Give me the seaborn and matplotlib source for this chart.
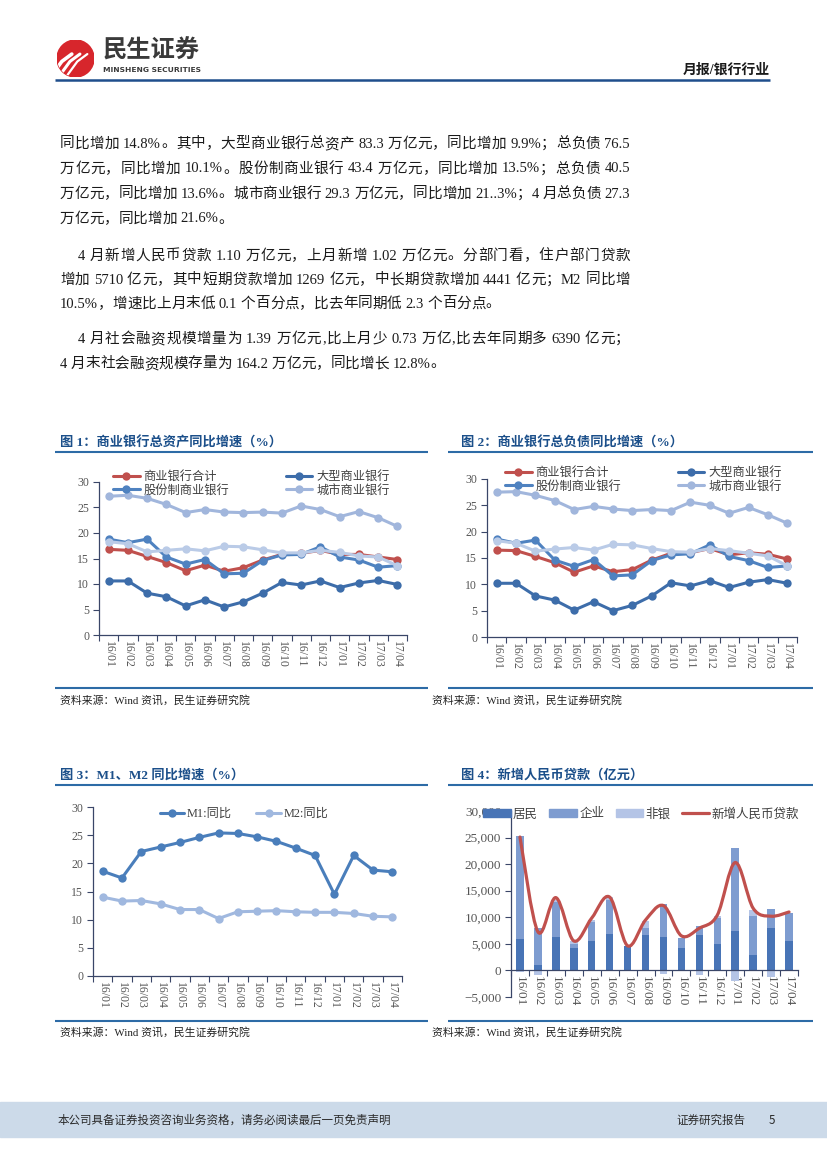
import re
import numpy as np
import matplotlib
matplotlib.use('Agg')
import matplotlib.pyplot as plt
from matplotlib.lines import Line2D
from matplotlib.patches import Circle, Rectangle, PathPatch, Patch
from matplotlib.path import Path
from matplotlib.ticker import StrMethodFormatter
import seaborn as sns

sns.set_theme(style='ticks')
SERIF_CJK = ['Liberation Serif', 'Noto Sans CJK SC']
SANS_CJK = ['Noto Sans CJK SC', 'DejaVu Sans']
plt.rcParams['font.family'] = SERIF_CJK

# ---------------- data ----------------
months = ['16/01', '16/02', '16/03', '16/04', '16/05', '16/06', '16/07', '16/08',
          '16/09', '16/10', '16/11', '16/12', '17/01', '17/02', '17/03', '17/04']

# fig 1: total assets yoy (%)
asset_total = [16.8, 16.6, 15.4, 14.2, 12.6, 13.7, 12.5, 13.2, 14.7, 15.8, 16.0, 16.6, 15.8, 15.8, 15.3, 14.8]
asset_large = [10.6, 10.6, 8.2, 7.5, 5.7, 6.9, 5.5, 6.5, 8.2, 10.3, 9.8, 10.6, 9.3, 10.2, 10.7, 9.9]
asset_joint = [18.8, 18.1, 18.8, 15.3, 13.9, 14.8, 12.0, 12.1, 14.6, 15.7, 15.8, 17.3, 15.3, 14.7, 13.3, 13.6]
asset_city = [27.2, 27.4, 26.8, 25.6, 24.0, 24.6, 24.1, 24.0, 24.1, 23.9, 25.3, 24.6, 23.2, 24.2, 23.0, 21.3]
asset_rural = [18.3, 17.9, 16.3, 16.6, 16.9, 16.5, 17.4, 17.3, 16.7, 16.1, 16.1, 16.6, 16.2, 15.5, 15.3, 13.6]

# fig 2: total liabilities yoy (%)
liab_total = [16.5, 16.4, 15.3, 14.1, 12.3, 13.5, 12.4, 12.8, 14.6, 15.9, 16.0, 16.8, 15.6, 16.0, 15.7, 14.8]
liab_large = [10.2, 10.2, 7.8, 7.0, 5.1, 6.7, 5.0, 6.0, 7.8, 10.3, 9.7, 10.7, 9.4, 10.4, 10.9, 10.2]
liab_joint = [18.6, 17.8, 18.4, 14.6, 13.4, 14.7, 11.6, 11.8, 14.5, 15.6, 15.8, 17.5, 15.3, 14.5, 13.2, 13.5]
liab_city = [27.5, 27.6, 26.9, 25.9, 24.2, 24.8, 24.3, 24.0, 24.2, 24.0, 25.6, 25.0, 23.5, 24.6, 23.2, 21.6]
liab_rural = [18.3, 17.8, 16.3, 16.7, 17.0, 16.5, 17.6, 17.5, 16.8, 16.2, 16.1, 16.8, 16.4, 15.9, 15.4, 13.5]

# fig 3: M1 / M2 yoy (%)
m1_yoy = [18.6, 17.4, 22.1, 22.9, 23.7, 24.6, 25.4, 25.3, 24.7, 23.9, 22.7, 21.4, 14.5, 21.4, 18.8, 18.5]
m2_yoy = [14.0, 13.3, 13.4, 12.8, 11.8, 11.8, 10.2, 11.4, 11.5, 11.6, 11.4, 11.3, 11.3, 11.1, 10.6, 10.5]

# fig 4: new RMB loans (100m yuan)
household = [5940, 1040, 6380, 4190, 5630, 6940, 4570, 6750, 6250, 4250, 6750, 4880, 7380, 2940, 7940, 5630]
corporate = [19370, 6970, 6560, 700, 3560, 6370, -60, 1190, 6250, 1810, 1620, 4930, 15620, 7370, 3620, 5180]
nonbank = [-300, -770, 300, 600, 370, 440, 120, 1440, -630, 0, -900, 500, -2000, 1130, -1250, 0]
new_loans = [25100, 7266, 13700, 5556, 9855, 13800, 4636, 9487, 12200, 6513, 7946, 10400, 20300, 11700, 10200, 11000]

# ---------------- colours ----------------
C_RED = '#C0504D'
C_LARGE = '#3D6DAA'
C_JOINT = '#4F82C0'
C_CITY = '#A1B6DC'
C_RURAL = '#BACBE7'
C_M1 = '#4A7EBB'
C_M2 = '#A0B8DF'
C_HH = '#4874B6'
C_CORP = '#7E9CD0'
C_NB = '#B4C4E6'
AXIS_C = '#3A4668'
TICK_C = '#555555'
TITLE_C = '#1B4F8A'
RULE_C = '#2D6BA6'

W, H = 827, 1169
fig = plt.figure(figsize=(W / 100, H / 100), dpi=100)
fig.patch.set_facecolor('white')
renderer = fig.canvas.get_renderer()


def fx(x):
    return x / W


def fy(y):
    return 1 - y / H


def px_axes(l, t, r, b):
    return fig.add_axes([fx(l), fy(b), (r - l) / W, (b - t) / H])


def hline(x0, x1, y, color, lw):
    fig.add_artist(Line2D([fx(x0), fx(x1)], [fy(y), fy(y)], color=color, lw=lw,
                          solid_capstyle='butt'))


# ---------------- header ----------------
logo = px_axes(57, 40, 94, 77)
logo.set_xlim(0, 1)
logo.set_ylim(0, 1)
logo.set_aspect('equal')
logo.axis('off')
circ = Circle((0.5, 0.5), 0.5, color='#D7262C')
logo.add_patch(circ)
for dx, lw in ((-0.22, 2.6), (0.0, 2.2), (0.2, 1.6)):
    ln, = logo.plot([0.08 + dx, 0.35 + dx, 0.62 + dx], [0.05, 0.42, 0.62], color='white',
                    lw=lw, solid_capstyle='round')
    ln.set_clip_path(circ)
fig.text(fx(103), fy(51), '民生证券', fontsize=17.5, fontweight='bold', family=SANS_CJK,
         color='#3A3A3A', va='center', ha='left')
fig.text(fx(103), fy(70), 'MINSHENG SECURITIES', fontsize=5.4, fontweight='bold',
         family='DejaVu Sans', color='#3A3A3A', va='center', ha='left')
fig.text(fx(770), fy(70), '月报/银行行业', fontsize=10, fontweight='bold', family=SERIF_CJK,
         color='#1A1A1A', va='center', ha='right')
hline(55, 770, 80, '#1F4E8C', 1.8)

# ---------------- body text ----------------
body_lines = [
    ('同比增加 14.8%。其中，大型商业银行总资产 83.3 万亿元，同比增加 9.9%；总负债 76.5', 144, 60, True),
    ('万亿元，同比增加 10.1%。股份制商业银行 43.4 万亿元，同比增加 13.5%；总负债 40.5', 169, 60, True),
    ('万亿元，同比增加 13.6%。城市商业银行 29.3 万亿元，同比增加 21..3%；4 月总负债 27.3', 194, 60, True),
    ('万亿元，同比增加 21.6%。', 219, 60, False),
    ('4 月新增人民币贷款 1.10 万亿元，上月新增 1.02 万亿元。分部门看，住户部门贷款', 256, 78, True),
    ('增加 5710 亿元，其中短期贷款增加 1269 亿元，中长期贷款增加 4441 亿元；M2 同比增', 280, 60, True),
    ('10.5%，增速比上月末低 0.1 个百分点，比去年同期低 2.3 个百分点。', 304, 60, False),
    ('4 月社会融资规模增量为 1.39 万亿元,比上月少 0.73 万亿,比去年同期多 6390 亿元；', 339, 78, True),
    ('4 月末社会融资规模存量为 164.2 万亿元，同比增长 12.8%。', 364, 60, False),
]
BODY_SIZE = 10.5
RIGHT_EDGE = 630
space_w = BODY_SIZE * 100 / 72 * 0.25
for text, y, x0, justify in body_lines:
    items = []
    for tok in re.findall(r' +|[0-9A-Za-z.%,]+|\S', text):
        if tok.startswith(' '):
            items.append(None)
        else:
            items.append(fig.text(0, fy(y), tok, fontsize=BODY_SIZE, family=SERIF_CJK,
                                  color='#1A1A1A', va='center', ha='left'))
    widths = [it.get_window_extent(renderer).width if it is not None else space_w
              for it in items]
    n_tok = sum(1 for it in items if it is not None)
    extra = 0.0
    if justify and n_tok > 1:
        extra = (RIGHT_EDGE - x0 - sum(widths)) / (n_tok - 1)
    x = x0
    for it, w in zip(items, widths):
        if it is None:
            x += w
        else:
            it.set_x(fx(x))
            x += w + extra


# ---------------- helpers for charts ----------------
def chart_frame(title, x_title, y_title, x0, x1, y_rule, y_src_rule, y_src, x_src):
    fig.text(fx(x_title), fy(y_title), title, fontsize=9.5, fontweight='bold',
             family=SERIF_CJK, color=TITLE_C, va='center', ha='left')
    hline(x0, x1, y_rule, RULE_C, 1.5)
    hline(x0, x1, y_src_rule, RULE_C, 1.5)
    fig.text(fx(x_src), fy(y_src), '资料来源：Wind 资讯，民生证券研究院', fontsize=7.8,
             family=SERIF_CJK, color='#222222', va='center', ha='left')


def style_axes(ax, ylim, yticks, size):
    ax.set_facecolor('none')
    for s in ['top', 'right']:
        ax.spines[s].set_visible(False)
    for s in ['left', 'bottom']:
        ax.spines[s].set_color(AXIS_C)
        ax.spines[s].set_linewidth(0.9)
    n = len(months)
    ax.set_xlim(-0.5, n - 0.5)
    ax.set_ylim(*ylim)
    ax.set_yticks(yticks)
    ax.set_xticks(range(n))
    ax.set_xticklabels(months)
    ax.set_xticks(np.arange(-0.5, n), minor=True)
    ax.tick_params(axis='x', which='major', length=0, pad=4, labelsize=size,
                   labelcolor=TICK_C, labelrotation=-90)
    ax.tick_params(axis='x', which='minor', length=4, width=0.8, color=AXIS_C, direction='out')
    ax.tick_params(axis='y', length=4, width=0.8, color=AXIS_C, direction='out',
                   labelsize=size, labelcolor=TICK_C, pad=3)
    ax.set_xlabel('')
    ax.set_ylabel('')


def line_handle(c):
    return Line2D([], [], color=c, lw=2.2, marker='o', markersize=6, markeredgewidth=0)


xs = np.arange(len(months))
LEG_PROP = {'family': SERIF_CJK, 'size': 8.8}


def bank_chart(ax, total, large, joint, city, rural, leg_x, leg_top):
    series = [(total, C_RED), (large, C_LARGE), (joint, C_JOINT), (city, C_CITY), (rural, C_RURAL)]
    for vals, c in series:
        sns.lineplot(x=xs, y=vals, ax=ax, color=c, lw=2.2, marker='o', markersize=6,
                     markeredgewidth=0, legend=False)
    style_axes(ax, (0, 30), range(0, 31, 5), 8.5)
    handles = [line_handle(C_RED), line_handle(C_JOINT), line_handle(C_LARGE), line_handle(C_CITY)]
    labels = ['商业银行合计', '股份制商业银行', '大型商业银行', '城市商业银行']
    leg = ax.legend(handles, labels, ncol=2, loc='upper left', bbox_to_anchor=(fx(leg_x), fy(leg_top)),
                    bbox_transform=fig.transFigure, frameon=False, prop=LEG_PROP, handlelength=2.2,
                    handletextpad=0.3, columnspacing=4.6, labelspacing=0.12, borderpad=0,
                    borderaxespad=0)
    for t in leg.get_texts():
        t.set_color('#404040')


# ---------------- fig 1 ----------------
chart_frame('图 1：商业银行总资产同比增速（%）', 60, 443, 55, 428, 452, 688, 700, 60)
ax1 = px_axes(99, 482, 407, 635)
bank_chart(ax1, asset_total, asset_large, asset_joint, asset_city, asset_rural, 113, 471)

# ---------------- fig 2 ----------------
chart_frame('图 2：商业银行总负债同比增速（%）', 461, 443, 448, 813, 452, 688, 700, 432)
ax2 = px_axes(487, 479, 797, 637)
bank_chart(ax2, liab_total, liab_large, liab_joint, liab_city, liab_rural, 505, 467)

# ---------------- fig 3 ----------------
chart_frame('图 3：M1、M2 同比增速（%）', 60, 775, 55, 428, 785, 1021, 1032, 60)
ax3 = px_axes(93, 807, 402, 976)
sns.lineplot(x=xs, y=m1_yoy, ax=ax3, color=C_M1, lw=2.2, marker='o', markersize=6,
             markeredgewidth=0, legend=False)
sns.lineplot(x=xs, y=m2_yoy, ax=ax3, color=C_M2, lw=2.2, marker='o', markersize=6,
             markeredgewidth=0, legend=False)
style_axes(ax3, (0, 30), range(0, 31, 5), 8.5)
leg3 = ax3.legend([line_handle(C_M1), line_handle(C_M2)], ['M1:同比', 'M2:同比'], ncol=2,
                  loc='upper left', bbox_to_anchor=(fx(160), fy(808)), bbox_transform=fig.transFigure,
                  frameon=False, prop=LEG_PROP, handlelength=2.0, handletextpad=0.2,
                  columnspacing=2.0, borderpad=0, borderaxespad=0)
for t in leg3.get_texts():
    t.set_color('#404040')

# ---------------- fig 4 ----------------
chart_frame('图 4：新增人民币贷款（亿元）', 461, 775, 448, 813, 785, 1021, 1032, 432)
ax4 = px_axes(511, 811, 798, 997)
ax4.spines['bottom'].set_position(('data', 0))
pos = np.zeros(len(months))
neg = np.zeros(len(months))
for vals, c in [(household, C_HH), (corporate, C_CORP), (nonbank, C_NB)]:
    v = np.array(vals, dtype=float)
    bottom = np.where(v >= 0, pos, neg)
    ax4.bar(xs, v, width=0.42, bottom=bottom, color=c, linewidth=0, zorder=2)
    pos = pos + np.where(v >= 0, v, 0)
    neg = neg + np.where(v < 0, v, 0)


def smooth_path(xv, yv):
    # Excel-style smoothed line: cubic Bezier segments through every data point
    pts = np.column_stack([xv, yv]).astype(float)
    verts = [pts[0]]
    codes = [Path.MOVETO]
    n = len(pts)
    for i in range(n - 1):
        p0, p1 = pts[max(i - 1, 0)], pts[i]
        p2, p3 = pts[i + 1], pts[min(i + 2, n - 1)]
        verts += [p1 + (p2 - p0) / 6, p2 - (p3 - p1) / 6, p2]
        codes += [Path.CURVE4] * 3
    return Path(verts, codes)


ax4.add_patch(PathPatch(smooth_path(xs, new_loans), fill=False, edgecolor=C_RED, lw=2.3,
                        zorder=3, capstyle='round', joinstyle='round'))
style_axes(ax4, (-5000, 30000), range(-5000, 30001, 5000), 9.5)
ax4.yaxis.set_major_formatter(StrMethodFormatter('{x:,.0f}'))
leg4 = ax4.legend([Patch(color=C_HH), Patch(color=C_CORP), Patch(color=C_NB),
                   Line2D([], [], color=C_RED, lw=2.3)],
                  ['居民', '企业', '非银', '新增人民币贷款'], ncol=4, loc='upper left',
                  bbox_to_anchor=(fx(483), fy(808)), bbox_transform=fig.transFigure,
                  frameon=False, prop={'family': SERIF_CJK, 'size': 9}, handlelength=2.2,
                  handleheight=0.55, handletextpad=0.2, columnspacing=0.9, borderpad=0,
                  borderaxespad=0)
for t in leg4.get_texts():
    t.set_color('#404040')

# ---------------- footer ----------------
fig.add_artist(Rectangle((0, fy(1137)), 1, (1137 - 1102) / H, transform=fig.transFigure,
                         color='#CCDAE9', zorder=0))
fig.text(fx(58), fy(1120), '本公司具备证券投资咨询业务资格，请务必阅读最后一页免责声明',
         fontsize=8.3, family=SANS_CJK, color='#2A2A2A', va='center', ha='left')
fig.text(fx(676), fy(1120), '证券研究报告', fontsize=8.3, family=SANS_CJK, color='#2A2A2A',
         va='center', ha='left')
fig.text(fx(769), fy(1120), '5', fontsize=8.3, family=SANS_CJK, color='#2A2A2A',
         va='center', ha='left')

fig.savefig('out.png', dpi=100)
